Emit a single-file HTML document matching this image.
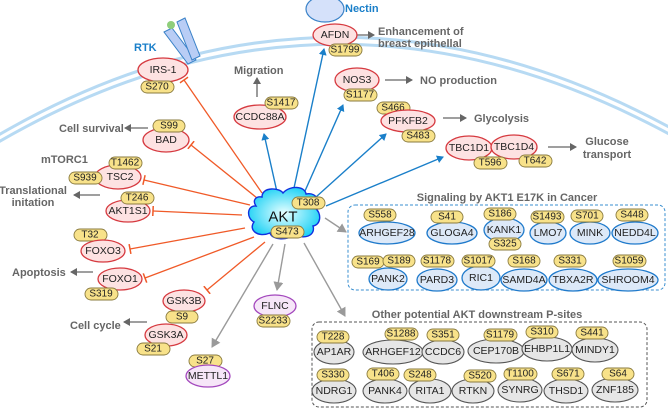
<!DOCTYPE html>
<html><head><meta charset="utf-8"><style>
html,body{margin:0;padding:0;background:#fff;}
svg{display:block;font-family:"Liberation Sans",Arial,sans-serif;}
.n{font-size:10.5px;fill:#222;text-anchor:middle;dominant-baseline:central;}
.b{font-size:10px;fill:#222;text-anchor:middle;dominant-baseline:central;}
.lab{font-size:11px;font-weight:bold;fill:#666;}
.r{fill:#fde2e2;stroke:#d63a40;stroke-width:1.3;}
.p{fill:#f6e6f8;stroke:#a348bd;stroke-width:1.3;}
.bl{fill:#dde9f8;stroke:#1f7acb;stroke-width:1.3;}
.g{fill:#e6e6e6;stroke:#555;stroke-width:1.1;}
.y{fill:#f8e28a;stroke:#8a7b3f;stroke-width:0.9;}
.inh{stroke:#f05a28;stroke-width:1.3;fill:none;}
.ba{stroke:#1a7fc9;stroke-width:1.4;fill:none;}
.ga{stroke:#9a9a9a;stroke-width:1.4;fill:none;}
.da{stroke:#666;stroke-width:1.3;fill:none;}
</style></head><body>
<svg width="668" height="409" viewBox="0 0 668 409" xmlns="http://www.w3.org/2000/svg">
<defs>
<marker id="mb" markerWidth="8" markerHeight="8" refX="6" refY="4" orient="auto" markerUnits="userSpaceOnUse"><path d="M0,0 L7,4 L0,8 z" fill="#1a7fc9"/></marker>
<marker id="mg" markerWidth="10" markerHeight="10" refX="8" refY="5" orient="auto" markerUnits="userSpaceOnUse"><path d="M0,0 L9,5 L0,10 z" fill="#9a9a9a"/></marker>
<marker id="md" markerWidth="8" markerHeight="8" refX="6" refY="4" orient="auto" markerUnits="userSpaceOnUse"><path d="M0,0 L7,4 L0,8 z" fill="#666"/></marker>
<marker id="mi" markerWidth="2" markerHeight="10" refX="1" refY="5" orient="auto" markerUnits="userSpaceOnUse"><path d="M1,0 L1,10" stroke="#f05a28" stroke-width="1.5"/></marker>
<radialGradient id="ak" cx="50%" cy="50%" r="55%"><stop offset="0" stop-color="#e8ffff"/><stop offset="1" stop-color="#19d0f5"/></radialGradient>
</defs>

<path d="M-10 140 Q 330 -62 680 133" stroke="#b7daf3" stroke-width="3" fill="none"/>
<path d="M-10 147 Q 330 -55 680 140" stroke="#b7daf3" stroke-width="3" fill="none"/>

<polygon points="164,32 172,28 196,60 188,64" fill="#b9cdf5" stroke="#3a82c8" stroke-width="1"/>
<polygon points="177,22 185,18 200,56 192,60" fill="#b9cdf5" stroke="#3a82c8" stroke-width="1"/>
<circle cx="171" cy="25" r="4" fill="#8fce7a"/>
<text x="134" y="51" style="font-size:11px;font-weight:bold;fill:#1a7fc9">RTK</text>

<ellipse cx="325" cy="9" rx="19" ry="13" fill="#d5e1fa" stroke="#3a82c8" stroke-width="1.2"/>
<text x="345" y="12" style="font-size:11px;font-weight:bold;fill:#1a7fc9">Nectin</text>

<line class="inh" x1="262" y1="193" x2="184" y2="80" marker-end="url(#mi)"/>
<line class="inh" x1="257" y1="198" x2="191" y2="145" marker-end="url(#mi)"/>
<line class="inh" x1="250" y1="205" x2="144" y2="180" marker-end="url(#mi)"/>
<line class="inh" x1="242" y1="215" x2="153" y2="211" marker-end="url(#mi)"/>
<line class="inh" x1="245" y1="228" x2="130" y2="249" marker-end="url(#mi)"/>
<line class="inh" x1="254" y1="237" x2="145" y2="278" marker-end="url(#mi)"/>
<line class="inh" x1="265" y1="242" x2="207" y2="290" marker-end="url(#mi)"/>

<line class="ba" x1="277" y1="192" x2="264" y2="134" marker-end="url(#mb)"/>
<line class="ba" x1="294" y1="188" x2="324" y2="49" marker-end="url(#mb)"/>
<line class="ba" x1="305" y1="191" x2="343" y2="105" marker-end="url(#mb)"/>
<line class="ba" x1="316" y1="197" x2="386" y2="134" marker-end="url(#mb)"/>
<line class="ba" x1="326" y1="206" x2="443" y2="157" marker-end="url(#mb)"/>

<line class="ga" x1="325" y1="218" x2="346" y2="232" marker-end="url(#mg)"/>
<line class="ga" x1="304" y1="243" x2="345" y2="316" marker-end="url(#mg)"/>
<line class="ga" x1="285" y1="244" x2="277" y2="290" marker-end="url(#mg)"/>
<line class="ga" x1="273" y1="244" x2="212" y2="347" marker-end="url(#mg)"/>

<line class="da" x1="257" y1="97" x2="257" y2="78" marker-end="url(#md)"/>
<line class="da" x1="357" y1="35" x2="374" y2="35" marker-end="url(#md)"/>
<line class="da" x1="385" y1="80" x2="412" y2="80" marker-end="url(#md)"/>
<line class="da" x1="443" y1="118" x2="466" y2="118" marker-end="url(#md)"/>
<line class="da" x1="548" y1="147" x2="576" y2="147" marker-end="url(#md)"/>
<line class="da" x1="148" y1="128" x2="125" y2="128" marker-end="url(#md)"/>
<line class="da" x1="100" y1="195" x2="74" y2="195" marker-end="url(#md)"/>
<line class="da" x1="93" y1="272" x2="71" y2="272" marker-end="url(#md)"/>
<line class="da" x1="147" y1="322" x2="124" y2="322" marker-end="url(#md)"/>

<text class="lab" x="234" y="74">Migration</text>
<text class="lab" x="378" y="35">Enhancement of</text>
<text class="lab" x="378" y="47">breast epithellal</text>
<text class="lab" x="420" y="84">NO production</text>
<text class="lab" x="474" y="122">Glycolysis</text>
<text class="lab" x="607" y="145" style="text-anchor:middle">Glucose</text>
<text class="lab" x="607" y="158" style="text-anchor:middle">transport</text>
<text class="lab" x="59" y="132">Cell survival</text>
<text class="lab" x="41" y="163">mTORC1</text>
<text class="lab" x="33" y="194" style="text-anchor:middle">Translational</text>
<text class="lab" x="33" y="206" style="text-anchor:middle">initation</text>
<text class="lab" x="12" y="276">Apoptosis</text>
<text class="lab" x="70" y="329">Cell cycle</text>

<ellipse class="r" cx="163" cy="70" rx="25" ry="12"/><text class="n" x="163" y="70">IRS-1</text>
<rect class="y" x="141" y="81" width="33" height="12" rx="6"/><text class="b" x="157" y="87">S270</text>

<ellipse class="r" cx="166" cy="140" rx="23" ry="12"/><text class="n" x="166" y="140">BAD</text>
<rect class="y" x="153" y="120" width="32" height="12" rx="6"/><text class="b" x="169" y="126">S99</text>

<ellipse class="r" cx="118" cy="177" rx="23" ry="12"/><text class="n" x="120" y="177">TSC2</text>
<rect class="y" x="109" y="157" width="33" height="12" rx="6"/><text class="b" x="125" y="163">T1462</text>
<rect class="y" x="69" y="172" width="33" height="12" rx="6"/><text class="b" x="85" y="178">S939</text>

<ellipse class="r" cx="128" cy="211" rx="22" ry="11"/><text class="n" x="128" y="211">AKT1S1</text>
<rect class="y" x="121" y="192" width="33" height="12" rx="6"/><text class="b" x="137" y="198">T246</text>

<rect class="y" x="74" y="229" width="33" height="12" rx="6"/><text class="b" x="90" y="235">T32</text>
<ellipse class="r" cx="103" cy="251" rx="22" ry="11"/><text class="n" x="103" y="251">FOXO3</text>

<ellipse class="r" cx="120" cy="279" rx="22" ry="11"/><text class="n" x="120" y="279">FOXO1</text>
<rect class="y" x="85" y="288" width="33" height="12" rx="6"/><text class="b" x="101" y="294">S319</text>

<ellipse class="r" cx="184" cy="301" rx="21" ry="11"/><text class="n" x="184" y="301">GSK3B</text>
<rect class="y" x="166" y="311" width="32" height="12" rx="6"/><text class="b" x="182" y="317">S9</text>
<ellipse class="r" cx="166" cy="335" rx="21" ry="11"/><text class="n" x="166" y="335">GSK3A</text>
<rect class="y" x="137" y="343" width="33" height="12" rx="6"/><text class="b" x="153" y="349">S21</text>

<ellipse class="p" cx="275" cy="306" rx="21" ry="11"/><text class="n" x="275" y="306">FLNC</text>
<rect class="y" x="257" y="315" width="33" height="12" rx="6"/><text class="b" x="273" y="321">S2233</text>
<rect class="y" x="189" y="355" width="33" height="12" rx="6"/><text class="b" x="205" y="361">S27</text>
<ellipse class="p" cx="208" cy="376" rx="22" ry="11"/><text class="n" x="208" y="376">METTL1</text>

<ellipse class="r" cx="335" cy="35" rx="22" ry="11"/><text class="n" x="335" y="35">AFDN</text>
<rect class="y" x="329" y="44" width="33" height="12" rx="6"/><text class="b" x="345" y="50">S1799</text>

<ellipse class="r" cx="260" cy="117" rx="26" ry="12"/><text class="n" x="260" y="117">CCDC88A</text>
<rect class="y" x="265" y="97" width="33" height="12" rx="6"/><text class="b" x="281" y="103">S1417</text>

<ellipse class="r" cx="357" cy="80" rx="22" ry="12"/><text class="n" x="357" y="80">NOS3</text>
<rect class="y" x="344" y="89" width="33" height="12" rx="6"/><text class="b" x="360" y="95">S1177</text>

<rect class="y" x="377" y="102" width="33" height="12" rx="6"/><text class="b" x="393" y="108">S466</text>
<ellipse class="r" cx="408" cy="121" rx="27" ry="11"/><text class="n" x="408" y="121">PFKFB2</text>
<rect class="y" x="402" y="130" width="33" height="12" rx="6"/><text class="b" x="418" y="136">S483</text>

<ellipse class="r" cx="469" cy="148" rx="23" ry="12"/><text class="n" x="469" y="148">TBC1D1</text>
<ellipse class="r" cx="514" cy="147" rx="23" ry="12"/><text class="n" x="514" y="147">TBC1D4</text>
<rect class="y" x="474" y="157" width="33" height="12" rx="6"/><text class="b" x="490" y="163">T596</text>
<rect class="y" x="519" y="155" width="33" height="12" rx="6"/><text class="b" x="535" y="161">T642</text>

<path d="M262,197 C262,186 280,188 283,193 C290,185 305,186 306,194 C318,192 320,203 315,208 C322,213 321,225 313,226 C316,236 303,240 295,234 C288,241 272,240 270,233 C258,238 248,230 254,222 C246,218 247,205 256,206 C252,200 256,196 262,197 Z" fill="url(#ak)" stroke="#1030e0" stroke-width="1.4"/>
<text x="283" y="217" style="font-size:15px;fill:#111;text-anchor:middle;dominant-baseline:central">AKT</text>
<rect class="y" x="292" y="197" width="33" height="12" rx="6"/><text class="b" x="308" y="203">T308</text>
<rect class="y" x="271" y="226" width="33" height="12" rx="6"/><text class="b" x="287" y="232">S473</text>

<text class="lab" x="507" y="201" style="text-anchor:middle">Signaling by AKT1 E17K in Cancer</text>
<rect x="348" y="205" width="317" height="85" rx="7" fill="none" stroke="#3a8fd0" stroke-width="1" stroke-dasharray="3,2"/>
<ellipse class="bl" cx="387" cy="233" rx="28" ry="11"/><text class="n" x="387" y="233">ARHGEF28</text>
<ellipse class="bl" cx="452" cy="233" rx="25" ry="11"/><text class="n" x="452" y="233">GLOGA4</text>
<ellipse class="bl" cx="504" cy="230" rx="20" ry="12"/><text class="n" x="504" y="230">KANK1</text>
<ellipse class="bl" cx="548" cy="233" rx="18" ry="11"/><text class="n" x="548" y="233">LMO7</text>
<ellipse class="bl" cx="590" cy="233" rx="20" ry="11"/><text class="n" x="590" y="233">MINK</text>
<ellipse class="bl" cx="635" cy="233" rx="23" ry="11"/><text class="n" x="635" y="233">NEDD4L</text>
<rect class="y" x="364" y="209" width="32" height="12" rx="6"/><text class="b" x="380" y="215">S558</text>
<rect class="y" x="431" y="211" width="32" height="12" rx="6"/><text class="b" x="447" y="217">S41</text>
<rect class="y" x="484" y="208" width="32" height="12" rx="6"/><text class="b" x="500" y="214">S186</text>
<rect class="y" x="489" y="238" width="32" height="12" rx="6"/><text class="b" x="505" y="244">S325</text>
<rect class="y" x="531" y="211" width="33" height="12" rx="6"/><text class="b" x="547" y="217">S1493</text>
<rect class="y" x="571" y="210" width="32" height="12" rx="6"/><text class="b" x="587" y="216">S701</text>
<rect class="y" x="616" y="209" width="32" height="12" rx="6"/><text class="b" x="632" y="215">S448</text>

<ellipse class="bl" cx="388" cy="279" rx="19" ry="11"/><text class="n" x="388" y="279">PANK2</text>
<ellipse class="bl" cx="437" cy="280" rx="20" ry="11"/><text class="n" x="437" y="280">PARD3</text>
<ellipse class="bl" cx="481" cy="278" rx="19" ry="12"/><text class="n" x="481" y="278">RIC1</text>
<ellipse class="bl" cx="524" cy="280" rx="23" ry="11"/><text class="n" x="524" y="280">SAMD4A</text>
<ellipse class="bl" cx="573" cy="280" rx="24" ry="11"/><text class="n" x="573" y="280">TBXA2R</text>
<ellipse class="bl" cx="628" cy="280" rx="30" ry="11"/><text class="n" x="628" y="280">SHROOM4</text>
<rect class="y" x="352" y="256" width="32" height="12" rx="6"/><text class="b" x="368" y="262">S169</text>
<rect class="y" x="383" y="255" width="32" height="12" rx="6"/><text class="b" x="399" y="261">S189</text>
<rect class="y" x="421" y="255" width="33" height="12" rx="6"/><text class="b" x="437" y="261">S1178</text>
<rect class="y" x="462" y="255" width="33" height="12" rx="6"/><text class="b" x="478" y="261">S1017</text>
<rect class="y" x="508" y="255" width="32" height="12" rx="6"/><text class="b" x="524" y="261">S168</text>
<rect class="y" x="554" y="255" width="32" height="12" rx="6"/><text class="b" x="570" y="261">S331</text>
<rect class="y" x="613" y="255" width="33" height="12" rx="6"/><text class="b" x="629" y="261">S1059</text>

<text class="lab" x="477" y="318" style="text-anchor:middle">Other potential AKT downstream P-sites</text>
<rect x="312" y="322" width="335" height="85" rx="7" fill="none" stroke="#555" stroke-width="1" stroke-dasharray="3,2"/>
<ellipse class="g" cx="334" cy="352" rx="20" ry="12"/><text class="n" x="334" y="352">AP1AR</text>
<ellipse class="g" cx="393" cy="352" rx="30" ry="12"/><text class="n" x="393" y="352">ARHGEF12</text>
<ellipse class="g" cx="443" cy="352" rx="21" ry="12"/><text class="n" x="443" y="352">CCDC6</text>
<ellipse class="g" cx="496" cy="351" rx="28" ry="12"/><text class="n" x="496" y="351">CEP170B</text>
<ellipse class="g" cx="547" cy="349" rx="25" ry="12"/><text class="n" x="547" y="349">EHBP1L1</text>
<ellipse class="g" cx="595" cy="350" rx="23" ry="12"/><text class="n" x="595" y="350">MINDY1</text>
<rect class="y" x="317" y="331" width="32" height="12" rx="6"/><text class="b" x="333" y="337">T228</text>
<rect class="y" x="385" y="328" width="33" height="12" rx="6"/><text class="b" x="401" y="334">S1288</text>
<rect class="y" x="427" y="329" width="32" height="12" rx="6"/><text class="b" x="443" y="335">S351</text>
<rect class="y" x="484" y="329" width="33" height="12" rx="6"/><text class="b" x="500" y="335">S1179</text>
<rect class="y" x="526" y="326" width="32" height="12" rx="6"/><text class="b" x="542" y="332">S310</text>
<rect class="y" x="576" y="327" width="32" height="12" rx="6"/><text class="b" x="592" y="333">S441</text>

<ellipse class="g" cx="334" cy="391" rx="22" ry="12"/><text class="n" x="334" y="391">NDRG1</text>
<ellipse class="g" cx="385" cy="391" rx="22" ry="12"/><text class="n" x="385" y="391">PANK4</text>
<ellipse class="g" cx="430" cy="391" rx="21" ry="12"/><text class="n" x="430" y="391">RITA1</text>
<ellipse class="g" cx="473" cy="391" rx="21" ry="12"/><text class="n" x="473" y="391">RTKN</text>
<ellipse class="g" cx="520" cy="390" rx="22" ry="12"/><text class="n" x="520" y="390">SYNRG</text>
<ellipse class="g" cx="566" cy="391" rx="22" ry="12"/><text class="n" x="566" y="391">THSD1</text>
<ellipse class="g" cx="615" cy="390" rx="23" ry="12"/><text class="n" x="615" y="390">ZNF185</text>
<rect class="y" x="317" y="369" width="32" height="12" rx="6"/><text class="b" x="333" y="375">S330</text>
<rect class="y" x="367" y="368" width="32" height="12" rx="6"/><text class="b" x="383" y="374">T406</text>
<rect class="y" x="404" y="369" width="32" height="12" rx="6"/><text class="b" x="420" y="375">S248</text>
<rect class="y" x="464" y="370" width="32" height="12" rx="6"/><text class="b" x="480" y="376">S520</text>
<rect class="y" x="504" y="368" width="33" height="12" rx="6"/><text class="b" x="520" y="374">T1100</text>
<rect class="y" x="552" y="368" width="32" height="12" rx="6"/><text class="b" x="568" y="374">S671</text>
<rect class="y" x="602" y="368" width="32" height="12" rx="6"/><text class="b" x="618" y="374">S64</text>
</svg>
</body></html>
